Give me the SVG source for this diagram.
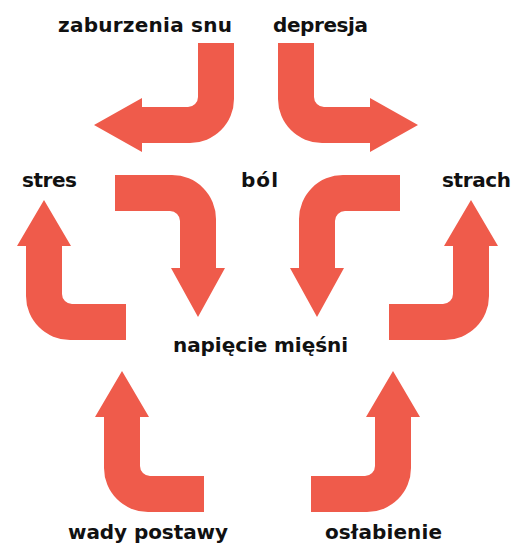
<svg xmlns="http://www.w3.org/2000/svg" width="518" height="544" viewBox="0 0 518 544">
<style>
.lbl{font-family:"DejaVu Sans","Liberation Sans",Arial,sans-serif;font-weight:bold;font-size:20px;fill:#111;text-anchor:middle}
.arr{fill:#EF5B4B}
</style>
<rect width="518" height="544" fill="#fff"/>
<g id="connectors">
<path id="a1" class="arr" d="M198,43 H234 V99 A44,44 0 0 1 190,143 H142 V152 L94,125 L142,98 V107 H188 A10,10 0 0 0 198,97 Z"/>
<path id="a2" class="arr" transform="matrix(-1 0 0 1 512 0)" d="M198,43 H234 V99 A44,44 0 0 1 190,143 H142 V152 L94,125 L142,98 V107 H188 A10,10 0 0 0 198,97 Z"/>
<path id="a3" class="arr" d="M126,340 H70 A44,44 0 0 1 26,296 V246 H17 L44,200 L71,246 H62 V294 A10,10 0 0 0 72,304 H126 Z"/>
<path id="a6" class="arr" transform="matrix(-1 0 0 1 515 0)" d="M126,340 H70 A44,44 0 0 1 26,296 V246 H17 L44,200 L71,246 H62 V294 A10,10 0 0 0 72,304 H126 Z"/>
<path id="a4" class="arr" d="M115,175 H172 A44,44 0 0 1 216,219 V268 H225 L198,317 L171,268 H180 V221 A10,10 0 0 0 170,211 H115 Z"/>
<path id="a5" class="arr" transform="matrix(-1 0 0 1 515 0)" d="M115,175 H172 A44,44 0 0 1 216,219 V268 H225 L198,317 L171,268 H180 V221 A10,10 0 0 0 170,211 H115 Z"/>
<path id="a7" class="arr" d="M204,512 H148 A44,44 0 0 1 104,468 V417 H95 L122,371 L149,417 H140 V466 A10,10 0 0 0 150,476 H204 Z"/>
<path id="a8" class="arr" transform="matrix(-1 0 0 1 515 0)" d="M204,512 H148 A44,44 0 0 1 104,468 V417 H95 L122,371 L149,417 H140 V466 A10,10 0 0 0 150,476 H204 Z"/>
</g>
<g id="n-zaburzenia"><text class="lbl" x="145" y="32" textLength="174" lengthAdjust="spacing">zaburzenia snu</text></g>
<g id="n-depresja"><text class="lbl" x="320.5" y="32" textLength="95" lengthAdjust="spacing">depresja</text></g>
<g id="n-stres"><text class="lbl" x="49.5" y="187" textLength="55" lengthAdjust="spacing">stres</text></g>
<g id="n-bol"><text class="lbl" x="259.5" y="187" textLength="37" lengthAdjust="spacing">ból</text></g>
<g id="n-strach"><text class="lbl" x="476.5" y="187" textLength="69" lengthAdjust="spacing">strach</text></g>
<g id="n-napiecie"><text class="lbl" x="260.5" y="352" textLength="175" lengthAdjust="spacing">napięcie mięśni</text></g>
<g id="n-wady"><text class="lbl" x="148" y="539" textLength="160" lengthAdjust="spacing">wady postawy</text></g>
<g id="n-oslabienie"><text class="lbl" x="383.5" y="539" textLength="117" lengthAdjust="spacing">osłabienie</text></g>
</svg>
